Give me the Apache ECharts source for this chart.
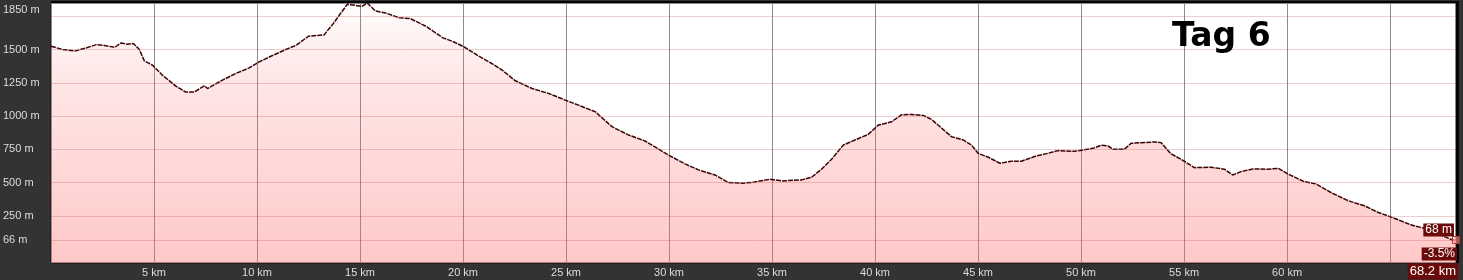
<!DOCTYPE html>
<html>
<head>
<meta charset="utf-8">
<script src="https://cdn.jsdelivr.net/npm/echarts@6/dist/echarts.min.js"></script>
<style>
html,body{margin:0;padding:0;background:#333;}
#chart{width:1463px;height:280px;}
</style>
</head>
<body>
<div id="chart"></div>
<script>
// ---- data ----
const chartTitle = 'Tag 6';
const distanceKm = [
  0, 0.57, 1.2, 1.7, 2.2, 2.6, 3.1, 3.4, 3.72, 4.0,
  4.29, 4.53, 4.93, 5.41, 6.06, 6.54, 6.95, 7.44, 7.6, 8.32,
  8.97, 9.62, 10.1, 10.75, 11.4, 11.9, 12.5, 13.25, 13.7, 14.38,
  14.78, 15.1, 15.35, 15.75, 16.24, 16.89, 17.45, 18.2, 19.0, 19.56,
  20.05, 20.77, 21.4, 21.9, 22.54, 23.35, 24.16, 24.96, 25.6, 26.42,
  27.23, 28.04, 28.84, 29.97, 30.78, 31.43, 32.23, 32.88, 33.5, 34.0,
  34.9, 35.47, 36.44, 36.92, 37.4, 37.89, 38.46, 39.02, 39.67, 40.16,
  40.8, 41.29, 41.77, 42.34, 42.74, 43.71, 44.28, 44.68, 45.0, 45.5,
  46.06, 46.62, 47.1, 47.83, 48.4, 48.88, 49.69, 50.58, 50.98, 51.3,
  51.55, 52.1, 52.43, 52.92, 53.56, 53.89, 54.37, 54.86, 55.5, 56.31,
  56.96, 57.36, 57.76, 58.33, 59.06, 59.57, 60.03, 60.83, 61.4, 62.13,
  62.94, 63.75, 64.4, 65.2, 66.0, 66.65, 67.4, 68.0, 68.2
];
const elevationM = [
  1525, 1500, 1490, 1512, 1537, 1530, 1517, 1550, 1540, 1545,
  1500, 1415, 1382, 1307, 1225, 1180, 1180, 1227, 1207, 1270,
  1320, 1362, 1407, 1455, 1500, 1532, 1600, 1610, 1695, 1840,
  1832, 1825, 1850, 1790, 1775, 1740, 1732, 1675, 1590, 1557,
  1520, 1450, 1395, 1345, 1265, 1207, 1170, 1120, 1082, 1032,
  920, 857, 812, 707, 640, 595, 557, 500, 495, 500,
  525, 512, 520, 540, 600, 675, 782, 820, 862, 932,
  957, 1010, 1012, 1005, 975, 845, 820, 782, 720, 690,
  645, 660, 660, 700, 720, 740, 735, 757, 780, 775,
  750, 750, 795, 800, 805, 800, 715, 675, 612, 615,
  600, 557, 582, 602, 600, 607, 565, 507, 490, 425,
  365, 325, 277, 232, 182, 157, 110, 70, 68
];
const xTickValues = [5, 10, 15, 20, 25, 30, 35, 40, 45, 50, 55, 60];
const yTickValues = [66, 250, 500, 750, 1000, 1250, 1500, 1850];
const yGridValues = [66, 250, 500, 750, 1000, 1250, 1500, 1750];
const endElevationLabel = '68 m';
const endGradeLabel = '-3.5%';
const totalDistanceLabel = '68.2 km';

// ---- chart ----
const seriesData = distanceKm.map((d, i) => [d, elevationM[i]]);
const lastPoint = seriesData[seriesData.length - 1];
const yMax = 1850, yMin = -105;

const chart = echarts.init(document.getElementById('chart'), null, {renderer: 'canvas'});
const option = {
  backgroundColor: '#333333',
  animation: false,
  title: {
    text: chartTitle,
    left: 1172,
    top: 21,
    padding: 0,
    textStyle: {fontFamily: 'DejaVu Sans', fontWeight: 'bold', fontSize: 33, color: '#000'}
  },
  grid: {
    left: 48, right: 7, top: 3, bottom: 17,
    show: true, backgroundColor: '#ffffff', borderColor: '#111', borderWidth: 1
  },
  xAxis: {
    type: 'value', min: 0, max: lastPoint[0], interval: 5,
    axisLine: {show: false}, axisTick: {show: false},
    splitLine: {show: true, lineStyle: {color: '#8c8c8c', width: 1}},
    axisLabel: {
      customValues: xTickValues,
      formatter: v => v + ' km',
      color: '#dddddd', fontSize: 11, margin: 4, fontFamily: 'Liberation Sans'
    }
  },
  yAxis: {
    type: 'value', min: yMin, max: yMax,
    axisLine: {show: false}, axisTick: {show: false}, splitLine: {show: false},
    axisLabel: {
      customValues: yTickValues,
      formatter: v => v === yMax ? '{top|' + v + ' m}' : v + ' m',
      align: 'left', margin: 48,
      color: '#dddddd', fontSize: 11, fontFamily: 'Liberation Sans',
      rich: {top: {padding: [14, 0, 0, 0], color: '#dddddd', fontSize: 11, fontFamily: 'Liberation Sans'}}
    }
  },
  series: [{
    type: 'line',
    data: seriesData,
    showSymbol: false,
    lineStyle: {color: '#3d0303', width: 1.5, type: [5, 1]},
    areaStyle: {
      origin: 'start',
      color: new echarts.graphic.LinearGradient(0, 0, 0, 1, [
        {offset: 0, color: 'rgba(255,105,105,0.02)'},
        {offset: 0.3, color: 'rgba(255,105,105,0.24)'},
        {offset: 1, color: 'rgba(255,105,105,0.52)'}
      ])
    },
    markLine: {
      silent: true, symbol: 'none', animation: false,
      label: {show: false},
      lineStyle: {color: 'rgba(190,80,80,0.28)', type: 'solid', width: 1},
      data: yGridValues.map(v => ({yAxis: v}))
    },
    markPoint: {
      silent: true, animation: false,
      symbol: 'rect', symbolSize: 7,
      itemStyle: {color: 'rgba(255,170,170,0.6)', borderColor: '#c83232', borderWidth: 1},
      label: {show: false},
      data: [{coord: lastPoint}]
    },
    z: 3
  }]
};
chart.setOption(option);

const p = chart.convertToPixel({gridIndex: 0}, lastPoint);
const rect = chart.getModel().getComponent('grid', 0).coordinateSystem.getRect();
const boxStyle = (text) => ({
  text: text, fill: '#ffffff', font: '12px "Liberation Sans"',
  backgroundColor: '#6b0a0a', padding: [1, 2, 0, 2],
  align: 'right', verticalAlign: 'middle'
});
chart.setOption({
  graphic: [
    {type: 'rect', z: 1, shape: {x: rect.x, y: rect.y - 2, width: rect.width + 3, height: 2}, style: {fill: '#050505'}},
    {type: 'rect', z: 1, shape: {x: rect.x + rect.width, y: rect.y - 2, width: 3, height: rect.height + 2}, style: {fill: '#050505'}},
    {type: 'text', x: p[0] - 2, y: p[1] - 10, z: 10, style: boxStyle(endElevationLabel)},
    {type: 'text', x: p[0] + 1, y: p[1] + 14, z: 10, style: boxStyle(endGradeLabel)},
    {type: 'text', x: p[0] + 2, y: 271.5, z: 10, style: Object.assign(boxStyle(totalDistanceLabel), {font: '13px "Liberation Sans"', padding: [2, 2, 1, 2]})}
  ]
});
</script>
</body>
</html>
